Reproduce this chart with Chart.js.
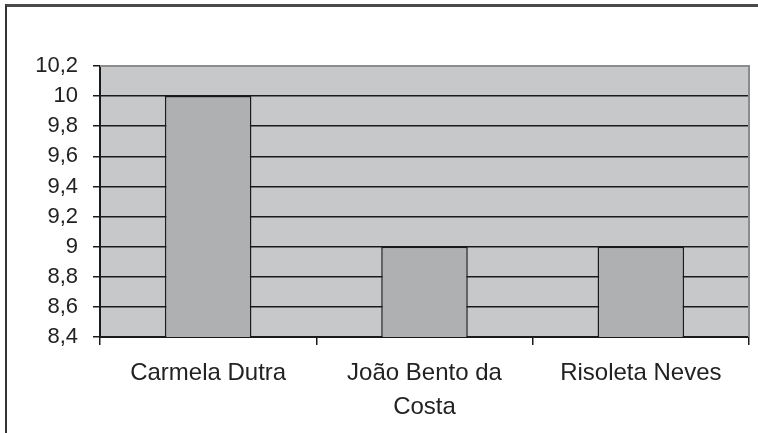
<!DOCTYPE html>
<html>
<head>
<meta charset="utf-8">
<script src="https://cdn.jsdelivr.net/npm/chart.js@4.4.0/dist/chart.umd.min.js"></script>
<style>
  html, body { margin: 0; padding: 0; background: #fff; }
  #wrap { position: relative; width: 758px; height: 433px; }
  #frame { position: absolute; left: 5px; top: 4px; right: 0; bottom: 0;
           border-top: 3px solid #4a4a4a; border-left: 2px solid #333; }
  canvas { position: absolute; left: 0; top: 0; }
</style>
</head>
<body>
<div id="wrap">
  <div id="frame"></div>
  <canvas id="mycanvas" width="758" height="433"></canvas>
</div>
<script>
var names = ['Carmela Dutra', ['João Bento da', 'Costa'], 'Risoleta Neves'];
var scores = [10, 9, 9];
var yMin = 8.4;
var yMax = 10.2;
var yStep = 0.2;

var fam = "'Liberation Sans', Arial, Helvetica, sans-serif";

var plotBack = {
  id: 'plotBack',
  beforeDraw: function(chart) {
    var a = chart.chartArea, c = chart.ctx;
    c.save();
    c.fillStyle = '#c7c8ca';
    c.fillRect(a.left, a.top, a.right - a.left, a.bottom - a.top);
    c.restore();
  },
  afterDatasetsDraw: function(chart) {
    var a = chart.chartArea, c = chart.ctx;
    c.save();
    c.strokeStyle = '#8c8c8c';
    c.lineWidth = 2;
    c.beginPath();
    c.moveTo(a.left, a.top);
    c.lineTo(a.right, a.top);
    c.lineTo(a.right, a.bottom);
    c.stroke();
    c.restore();
  }
};

var ctx = document.getElementById('mycanvas');
new Chart(ctx, {
  type: 'bar',
  data: {
    labels: names,
    datasets: [{
      data: scores,
      backgroundColor: '#afb0b2',
      borderColor: '#1a1a1a',
      borderWidth: 1.5,
      barPercentage: 0.8,
      categoryPercentage: 0.5
    }]
  },
  options: {
    responsive: false,
    animation: false,
    devicePixelRatio: 1,
    layout: { padding: { left: 0, top: 66, right: 9, bottom: 0 } },
    plugins: { legend: { display: false }, tooltip: { enabled: false } },
    scales: {
      x: {
        grid: { drawOnChartArea: false, color: '#1a1a1a', lineWidth: 1.5, tickLength: 8 },
        border: { color: '#1a1a1a', width: 2 },
        ticks: { color: '#222', padding: 11, maxRotation: 0, autoSkip: false,
                 font: { family: fam, size: 24, lineHeight: 1.42 } },
        afterFit: function(s) { s.height = 96; }
      },
      y: {
        min: yMin,
        max: yMax,
        grid: {
          color: function(c) { return c.tick && c.tick.value >= yMax - 0.01 ? 'rgba(0,0,0,0)' : '#1a1a1a'; },
          lineWidth: 1.5,
          tickLength: 7,
          tickColor: '#1a1a1a'
        },
        border: { color: '#1a1a1a', width: 2 },
        ticks: {
          stepSize: yStep,
          color: '#222',
          padding: 15,
          autoSkip: false,
          font: { family: fam, size: 22 },
          callback: function(v) { return (Math.round(v * 10) / 10).toString().replace('.', ','); }
        },
        afterFit: function(s) { s.width = 100; }
      }
    }
  },
  plugins: [plotBack]
});
</script>
</body>
</html>
